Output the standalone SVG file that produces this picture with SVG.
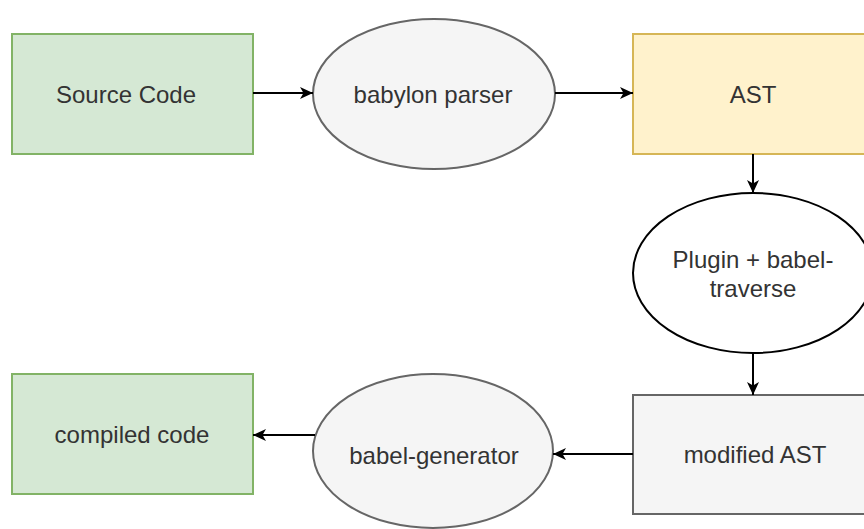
<svg xmlns="http://www.w3.org/2000/svg" width="864" height="529" viewBox="0 0 864 529">
<style>
  .lbl { font-family: "Liberation Sans", Arial, sans-serif; font-size: 24px; fill: #333333; text-anchor: middle; }
  .green { fill: #d5e8d4; stroke: #82b366; stroke-width: 2; }
  .yellow { fill: #fff2cc; stroke: #d6b656; stroke-width: 2; }
  .grey { fill: #f5f5f5; stroke: #666666; stroke-width: 2; }
  .white { fill: #ffffff; stroke: #000000; stroke-width: 2; }
  .edge { fill: none; stroke: #000000; stroke-width: 2; }
</style>
<defs>
  <marker id="arrow" markerUnits="userSpaceOnUse" markerWidth="14" markerHeight="12" refX="13" refY="6" orient="auto">
    <path d="M0,0 L13,6 L0,12 L3.5,6 Z" fill="#000000"/>
  </marker>
</defs>
<rect width="864" height="529" fill="#ffffff"/>
<g id="source-code">
  <rect class="green" x="12" y="34" width="241" height="120"/>
  <text class="lbl" x="126" y="103">Source Code</text>
</g>
<g id="babylon-parser">
  <ellipse class="grey" cx="434" cy="94" rx="121" ry="75"/>
  <text class="lbl" x="433" y="103">babylon parser</text>
</g>
<g id="ast">
  <rect class="yellow" x="633" y="34" width="244" height="120"/>
  <text class="lbl" x="753" y="103">AST</text>
</g>
<g id="plugin">
  <ellipse class="white" cx="753" cy="273" rx="120" ry="80"/>
  <text class="lbl" x="753" y="268">Plugin + babel-</text>
  <text class="lbl" x="753" y="297">traverse</text>
</g>
<g id="modified-ast">
  <rect class="grey" x="633" y="395" width="244" height="119"/>
  <text class="lbl" x="755" y="463">modified AST</text>
</g>
<g id="babel-generator">
  <ellipse class="grey" cx="433" cy="451" rx="120" ry="77"/>
  <text class="lbl" x="434" y="464">babel-generator</text>
</g>
<g id="compiled-code">
  <rect class="green" x="12" y="374" width="241" height="120"/>
  <text class="lbl" x="132" y="443">compiled code</text>
</g>
<g id="connectors">
  <line class="edge" x1="253" y1="93" x2="313" y2="93" marker-end="url(#arrow)"/>
  <line class="edge" x1="555" y1="93" x2="633" y2="93" marker-end="url(#arrow)"/>
  <line class="edge" x1="753" y1="154" x2="753" y2="193" marker-end="url(#arrow)"/>
  <line class="edge" x1="753" y1="353" x2="753" y2="395" marker-end="url(#arrow)"/>
  <line class="edge" x1="633" y1="454" x2="553" y2="454" marker-end="url(#arrow)"/>
  <line class="edge" x1="315" y1="435" x2="253" y2="435" marker-end="url(#arrow)"/>
</g>
</svg>
